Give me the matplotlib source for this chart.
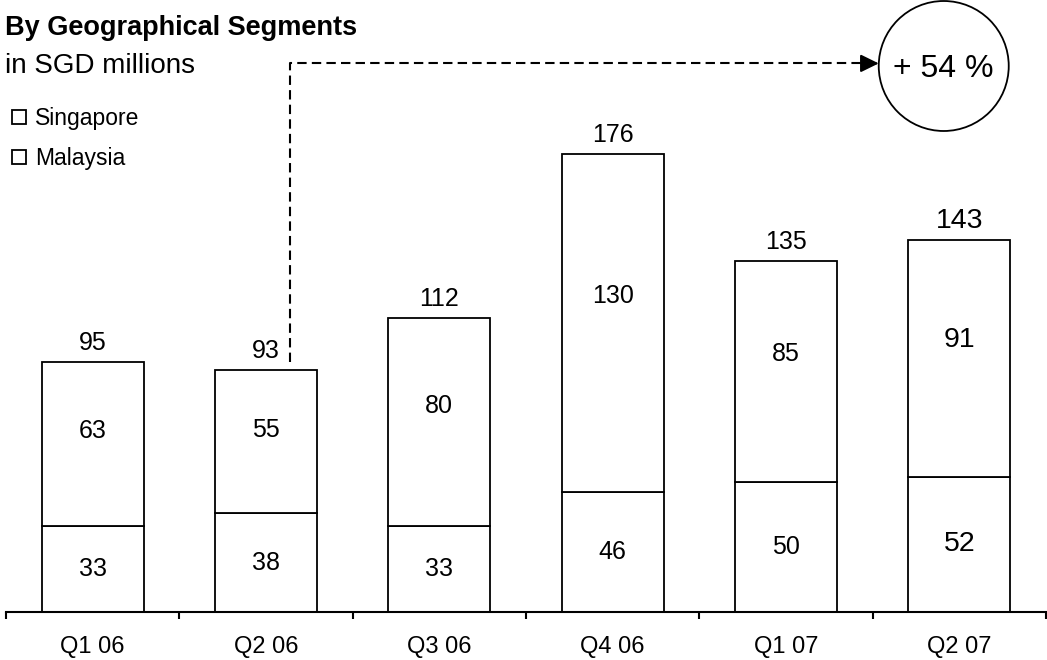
import numpy as np
import matplotlib
matplotlib.use('Agg')
import matplotlib.pyplot as plt
from matplotlib.patches import Ellipse

plt.rcParams['font.family'] = ['Liberation Sans', 'DejaVu Sans']

# data
quarters = ['Q1 06', 'Q2 06', 'Q3 06', 'Q4 06', 'Q1 07', 'Q2 07']
malaysia = [33, 38, 33, 46, 50, 52]
singapore = [63, 55, 80, 130, 85, 91]
totals = [95, 93, 112, 176, 135, 143]
growth_label = '+ 54 %'

W, H = 1047, 660
PX_PER_UNIT = 2.6
BASE_PX = 612  # axis line, pixels from top

fig = plt.figure(figsize=(W / 100, H / 100), dpi=100)
ax = fig.add_axes([6 / W, (H - BASE_PX) / H, 1040 / W, BASE_PX / H])
x = np.arange(len(quarters))
ax.set_xlim(-0.5, len(quarters) - 0.5)
ax.set_ylim(0, BASE_PX / PX_PER_UNIT)

bar_kw = dict(width=0.59, color='white', edgecolor='black', linewidth=1.3)
b_mal = ax.bar(x, malaysia, label='Malaysia', **bar_kw)
b_sin = ax.bar(x, singapore, bottom=malaysia, label='Singapore', **bar_kw)

for s in ['left', 'top', 'right']:
    ax.spines[s].set_visible(False)
ax.spines['bottom'].set_linewidth(1.5)
ax.set_yticks([])
ax.set_xticks(x, quarters)
ax.set_xticks(np.arange(-0.5, len(quarters)), minor=True)
ax.tick_params(axis='x', which='major', length=0, pad=17, labelsize=17)
ax.tick_params(axis='x', which='minor', length=5, width=1.5, direction='out')

# value labels
for i in x:
    fs = 20.5 if i == x[-1] else 18
    top = malaysia[i] + singapore[i]
    ax.annotate(str(totals[i]), (i, top), xytext=(0, 8.6), textcoords='offset points',
                ha='center', va='baseline', fontsize=fs)
    ax.text(i, malaysia[i] / 2, str(malaysia[i]), ha='center', va='center', fontsize=fs)
    ax.text(i, malaysia[i] + singapore[i] * 0.58, str(singapore[i]),
            ha='center', va='center', fontsize=fs)

# growth arrow from Q2 06 to the circle
y_arrow = 211
x_start = 1.14
cx = 4.91
r_x = 65 / 173.33
ax.plot([x_start, x_start, cx - r_x - 0.08], [totals[1] + 3, y_arrow, y_arrow],
        color='black', lw=1.5, linestyle=(0, (4.5, 2.5)), clip_on=False)
ax.annotate('', xy=(cx - r_x, y_arrow), xytext=(cx - r_x - 0.1, y_arrow),
            arrowprops=dict(arrowstyle='-|>,head_length=0.55,head_width=0.27',
                            mutation_scale=20, color='black', lw=1.5,
                            shrinkA=0, shrinkB=0),
            annotation_clip=False)
ax.add_patch(Ellipse((cx, 210), width=2 * r_x, height=130 / PX_PER_UNIT,
                     fill=False, edgecolor='black', lw=1.3, clip_on=False))
ax.text(cx, 209, growth_label, ha='center', va='center', fontsize=23)

fig.text(5 / W, 1 - 35 / H, 'By Geographical Segments', fontsize=19.5,
         fontweight='bold', va='baseline')
fig.text(5 / W, 1 - 73 / H, 'in SGD millions', fontsize=20, va='baseline')

fig.legend(handles=[b_sin, b_mal], labels=['Singapore', 'Malaysia'],
           loc='upper left', bbox_to_anchor=(12 / W, 1 - 107 / H), frameon=False,
           fontsize=16.5, handlelength=0.6, handleheight=0.6, handletextpad=0.4,
           labelspacing=0.75, borderpad=0, borderaxespad=0)

fig.savefig('out.png', dpi=100)
